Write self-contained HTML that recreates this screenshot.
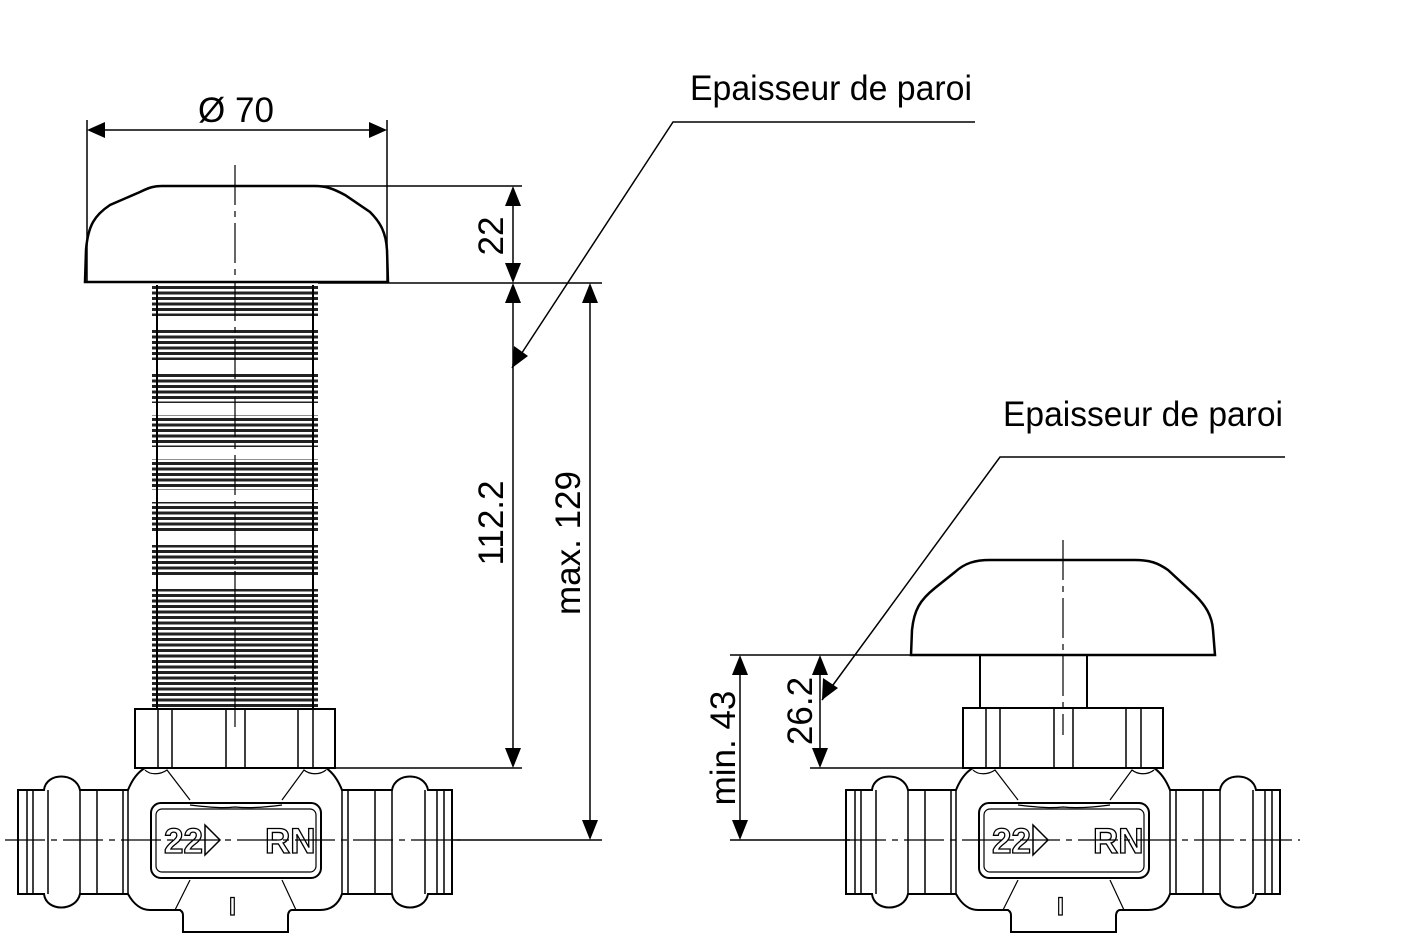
<!DOCTYPE html>
<html><head><meta charset="utf-8"><style>
html,body{margin:0;padding:0;background:#fff;}
svg{display:block;}
text{font-family:"Liberation Sans",sans-serif;fill:#000;}
</style></head><body>
<svg width="1418" height="945" viewBox="0 0 1418 945" xmlns="http://www.w3.org/2000/svg">
<defs>
<pattern id="thr" x="0" y="0" width="10" height="5.5" patternUnits="userSpaceOnUse">
<rect width="10" height="5.5" fill="#fff"/>
<rect y="0" width="10" height="3" fill="#222"/>
</pattern>
<g id="valve" fill="none" stroke="#000" stroke-width="2">
 <path d="M128,790 L80,790 C76,772 46,772 44,790 L18,790 L18,894 L44,894 C46,912 76,912 80,894 L128,894 C134,905 142,910 150,910 L180,910 C183,912 183,914 183,916 L183,932 L288,932 L288,916 C288,912 290,910 292,910 L320,910 C330,910 338,905 342,894 L392,894 C395,912 425,912 428,894 L452,894 L452,790 L428,790 C425,772 395,772 392,790 L342,790 C338,780 332,772 326,768 L145,768 C138,772 132,780 128,790 Z"/>
 <path d="M33,790 V894 M27,790 V894 M48,790 V894 M80,790 V894 M97,790 V894 M123,790 V894 M128,790 V894" stroke-width="1.5"/>
 <path d="M342,790 V894 M348,790 V894 M375,790 V894 M392,790 V894 M425,790 V894 M437,790 V894 M444,790 V894" stroke-width="1.5"/>
 <path d="M145,770 C150,775 160,775 167,770 L190,800 M326,770 C320,775 310,775 304,770 L282,800 M190,805 C215,808 225,808 235,807 C245,808 260,808 282,805" stroke-width="1.2"/>
 <path d="M190,880 L175,910 M282,880 L296,910" stroke-width="1.2"/>
 <rect x="151" y="803" width="170" height="75" rx="10" stroke-width="2"/>
 <rect x="156" y="809" width="160" height="63" rx="6" stroke-width="1.2"/>
 <path d="M205,825 L220,840 L205,855 Z" stroke-width="1.5"/>
 <text x="164" y="853" font-size="35" font-weight="bold" style="fill:#fff" stroke="#000" stroke-width="1.3">22</text>
 <text x="265" y="853" font-size="35" font-weight="bold" style="fill:#fff" stroke="#000" stroke-width="1.3">RN</text>
 <text x="229" y="915" font-size="25" font-weight="bold" style="fill:#fff" stroke="#000" stroke-width="1.2">I</text>
</g>
</defs>

<path d="M85,282 L86,250 C88,225 95,215 110,205 L140,192 C150,187 155,186 162,186 L315,186 C325,186 332,188 345,195 L370,212 C380,222 386,232 387,250 L388,282 Z" fill="none" stroke="#000" stroke-width="2.5"/>
<rect x="152" y="285" width="166" height="423" fill="url(#thr)"/>
<g fill="#fff">
<rect x="150" y="316" width="170" height="12"/>
<rect x="150" y="360" width="170" height="12"/>
<rect x="150" y="403" width="170" height="12"/>
<rect x="150" y="447" width="170" height="12"/>
<rect x="150" y="490" width="170" height="12"/>
<rect x="150" y="533" width="170" height="12"/>
<rect x="150" y="577" width="170" height="12"/>
</g>
<path d="M157,285 V708 M313,285 V708" stroke="#000" stroke-width="2"/>
<g fill="none" stroke="#000" stroke-width="2">
<rect x="135" y="709" width="200" height="59"/>
<path d="M158,709 V768 M172,709 V768 M226,709 V768 M245,709 V768 M298,709 V768 M313,709 V768" stroke-width="1.5"/>
</g>
<use href="#valve"/>
<path d="M235,165 V730" stroke="#000" stroke-width="1.2" stroke-dasharray="40,6,6,6"/>
<path d="M5,840 H460" stroke="#000" stroke-width="1.2" stroke-dasharray="40,6,6,6"/>

<g stroke="#000" stroke-width="1.5" fill="none">
<path d="M87,120 V283 M387,120 V283 M90,130 H384"/>
<path d="M300,186 H522 M318,283 H602 M335,768 H522 M452,840 H602"/>
<path d="M513,192 V277 M513,289 V762 M590,289 V834"/>
<path d="M512,368 L673,122 H975"/>
</g>
<g fill="#000">
<path d="M87,130 L105,122 L105,138 Z M387,130 L369,122 L369,138 Z"/>
<path d="M513,186 L505,206 L521,206 Z M513,283 L505,263 L521,263 Z"/>
<path d="M513,283 L505,303 L521,303 Z M513,768 L505,748 L521,748 Z"/>
<path d="M590,283 L582,303 L598,303 Z M590,840 L582,820 L598,820 Z"/>
<path d="M512,368 L514,346 L528,356 Z"/>
</g>
<text x="236" y="122" font-size="35" text-anchor="middle">Ø 70</text>
<text transform="translate(503,236) rotate(-90)" font-size="35" text-anchor="middle">22</text>
<text transform="translate(503,523) rotate(-90)" font-size="35" text-anchor="middle">112.2</text>
<text transform="translate(580,543) rotate(-90)" font-size="35" text-anchor="middle">max. 129</text>
<text x="690" y="100" font-size="35" textLength="282" lengthAdjust="spacingAndGlyphs">Epaisseur de paroi</text>

<path d="M911,655 L912,630 C914,610 920,600 935,588 L955,572 C965,563 975,560 990,560 L1135,560 C1150,560 1158,563 1168,570 L1195,595 C1205,605 1212,615 1213,630 L1215,655 Z" fill="none" stroke="#000" stroke-width="2.5"/>
<rect x="980" y="655" width="107" height="53" fill="none" stroke="#000" stroke-width="2"/>
<g fill="none" stroke="#000" stroke-width="2">
<rect x="963" y="708" width="200" height="60"/>
<path d="M986,708 V768 M1000,708 V768 M1054,708 V768 M1073,708 V768 M1126,708 V768 M1141,708 V768" stroke-width="1.5"/>
</g>
<use href="#valve" transform="translate(828,0)"/>
<path d="M1063,540 V735" stroke="#000" stroke-width="1.2" stroke-dasharray="40,6,6,6"/>
<path d="M846,840 H1300" stroke="#000" stroke-width="1.2" stroke-dasharray="40,6,6,6"/>

<g stroke="#000" stroke-width="1.5" fill="none">
<path d="M730,655 H911 M730,840 H850 M810,768 H963"/>
<path d="M740,661 V834 M820,661 V762"/>
<path d="M822,700 L1000,457 H1285"/>
</g>
<g fill="#000">
<path d="M740,655 L732,675 L748,675 Z M740,840 L732,820 L748,820 Z"/>
<path d="M820,655 L812,675 L828,675 Z M820,768 L812,748 L828,748 Z"/>
<path d="M822,700 L823,678 L838,688 Z"/>
</g>
<text transform="translate(735,748) rotate(-90)" font-size="35" text-anchor="middle">min. 43</text>
<text transform="translate(812,711) rotate(-90)" font-size="35" text-anchor="middle">26.2</text>
<text x="1003" y="426" font-size="35" textLength="280" lengthAdjust="spacingAndGlyphs">Epaisseur de paroi</text>
</svg>
</body></html>
